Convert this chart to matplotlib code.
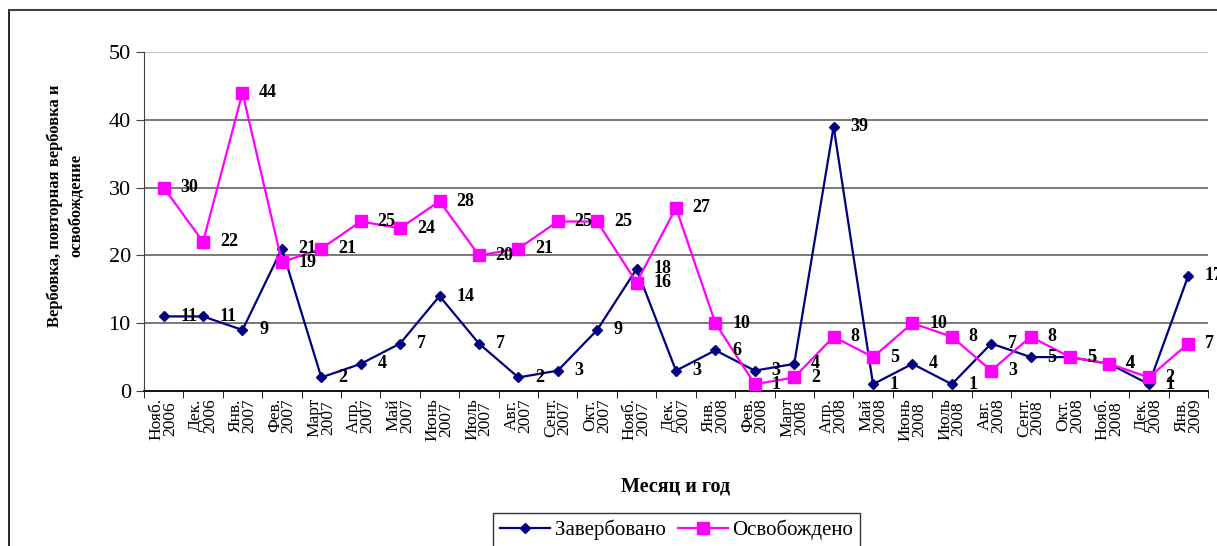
import numpy as np
import matplotlib.pyplot as plt
from matplotlib.lines import Line2D

plt.rcParams['font.family'] = ['Liberation Serif', 'DejaVu Serif']

months = ["Нояб.\n2006", "Дек.\n2006", "Янв.\n2007", "Фев.\n2007", "Март\n2007",
          "Апр.\n2007", "Май\n2007", "Июнь\n2007", "Июль\n2007", "Авг.\n2007",
          "Сент.\n2007", "Окт.\n2007", "Нояб.\n2007", "Дек.\n2007", "Янв.\n2008",
          "Фев.\n2008", "Март\n2008", "Апр.\n2008", "Май\n2008", "Июнь\n2008",
          "Июль\n2008", "Авг.\n2008", "Сент.\n2008", "Окт.\n2008", "Нояб.\n2008",
          "Дек.\n2008", "Янв.\n2009"]
recruited = [11, 11, 9, 21, 2, 4, 7, 14, 7, 2, 3, 9, 18, 3, 6, 3, 4, 39, 1, 4, 1, 7, 5, 5, 4, 1, 17]
released = [30, 22, 44, 19, 21, 25, 24, 28, 20, 21, 25, 25, 16, 27, 10, 1, 2, 8, 5, 10, 8, 3, 8, 5, 4, 2, 7]

navy = '#000080'
magenta = '#ff00ff'

fig = plt.figure(figsize=(12.17, 5.46), dpi=100)
ax = fig.add_axes([0.1183, 0.2839, 0.8743, 0.6209])

x = np.arange(len(months))
ax.plot(x, recruited, color=navy, lw=1.6, marker='D', ms=5.5, zorder=3)
ax.plot(x, released, color=magenta, lw=1.6, marker='s', ms=9, zorder=4)

for xi, v in zip(x, recruited):
    ax.annotate(str(v), (xi, v), xytext=(12, 0), textcoords='offset points',
                va='center', ha='left', fontsize=13, fontweight='bold', zorder=5)
for xi, v in zip(x, released):
    ax.annotate(str(v), (xi, v), xytext=(12, 0), textcoords='offset points',
                va='center', ha='left', fontsize=13, fontweight='bold', zorder=5)

ax.set_xlim(-0.5, len(months) - 0.5)
ax.set_ylim(0, 50)
ax.set_yticks(range(0, 51, 10))
ax.tick_params(axis='y', labelsize=16, direction='out', length=6, color='#404040')
for yv in range(10, 50, 10):
    ax.axhline(yv, color='#555555', lw=1.1, zorder=1)
ax.axhline(50, color='#c8c8c8', lw=1.5, zorder=1)

ax.set_xticks(x)
ax.set_xticklabels(months, rotation=90, fontsize=12.5, linespacing=0.8)
ax.set_xticks(np.arange(-0.5, len(months), 1), minor=True)
ax.tick_params(axis='x', which='major', length=0, pad=5)
ax.tick_params(axis='x', which='minor', length=5, direction='out', color='black')

for s in ['top', 'right']:
    ax.spines[s].set_visible(False)
ax.spines['left'].set_color('#404040')
ax.spines['bottom'].set_color('black')
ax.spines['bottom'].set_linewidth(1.3)

ax.set_ylabel("Вербовка, повторная вербовка и\nосвобождение", fontsize=12,
              fontweight='bold', linespacing=1.45)
ax.yaxis.set_label_coords(-0.056, 0.546)
ax.set_xlabel("Месяц и год", fontsize=14.5, fontweight='bold', labelpad=26)

handles = [Line2D([], [], color=navy, marker='D', ms=5.5, lw=1.6),
           Line2D([], [], color=magenta, marker='s', ms=9, lw=1.6)]
leg = fig.legend(handles, ["Завербовано", "Освобождено"], loc='lower center',
                 bbox_to_anchor=(0.556, -0.022), ncol=2, fontsize=15, frameon=True,
                 fancybox=False, edgecolor='black', handlelength=2.4, columnspacing=0.6,
                 handletextpad=0.2, borderpad=0.35)
leg.get_frame().set_linewidth(1.0)

# outer chart frame
fig.add_artist(Line2D([0.0074, 0.0074], [0, 0.9817], transform=fig.transFigure, color='black', lw=1.2))
fig.add_artist(Line2D([0.0074, 1.0], [0.9817, 0.9817], transform=fig.transFigure, color='#404040', lw=1.5))

fig.savefig('out.png', dpi=100)
